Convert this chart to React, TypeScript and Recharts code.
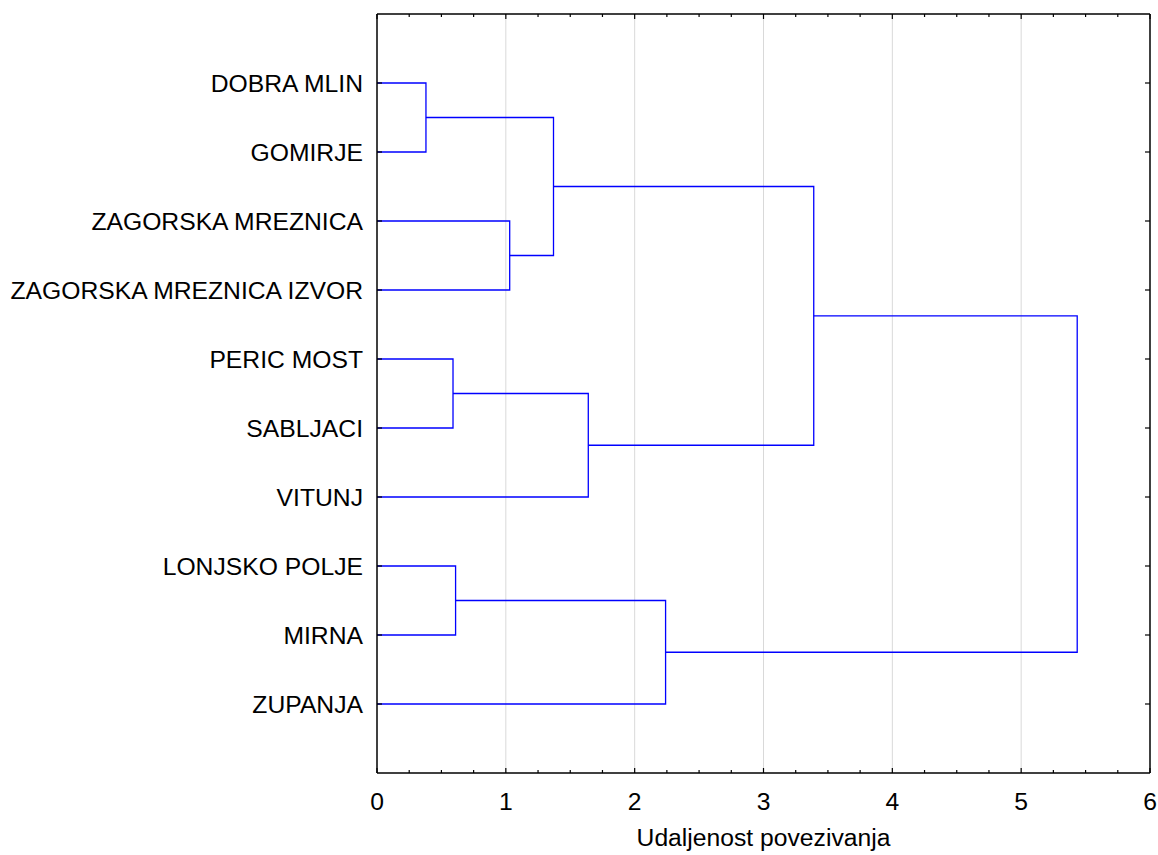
import React from "react";
import { ComposedChart, Line, XAxis, YAxis, CartesianGrid } from "recharts";

// leaves, top to bottom
const leafNames = [
  "DOBRA MLIN",
  "GOMIRJE",
  "ZAGORSKA MREZNICA",
  "ZAGORSKA MREZNICA IZVOR",
  "PERIC MOST",
  "SABLJACI",
  "VITUNJ",
  "LONJSKO POLJE",
  "MIRNA",
  "ZUPANJA",
];

// merge steps: ids 0..9 are leaves, every merge makes a new id (10, 11, ...)
const mergeLeft = [0, 2, 10, 4, 13, 12, 7, 16, 15];
const mergeRight = [1, 3, 11, 5, 6, 14, 8, 9, 17];
const mergeHeight = [0.38, 1.03, 1.37, 0.59, 1.64, 3.39, 0.61, 2.24, 5.435];

const xMajorTicks = [0, 1, 2, 3, 4, 5, 6];
const gridValues = [1, 2, 3, 4, 5];

const FONT = "'Liberation Sans', Arial, sans-serif";
const FONT_SIZE = 24.7;
const BLUE = "#0000ff";

// all ticks incl. minor ones (every 0.25)
const xAllTicks: number[] = [];
for (let i = 0; i < xMajorTicks.length - 1; i++) {
  for (let j = 0; j < 4; j++) xAllTicks.push(xMajorTicks[i] + j * 0.25);
}
xAllTicks.push(xMajorTicks[xMajorTicks.length - 1]);

const leafPos = leafNames.map((_, i) => i + 1);

// build the U-shaped links of the dendrogram
const nodeY: number[] = [...leafPos];
const nodeH: number[] = leafNames.map(() => 0);
const links = mergeLeft.map((l, k) => {
  const r = mergeRight[k];
  const h = mergeHeight[k];
  const pts = [
    { x: nodeH[l], y: nodeY[l] },
    { x: h, y: nodeY[l] },
    { x: h, y: nodeY[r] },
    { x: nodeH[r], y: nodeY[r] },
  ];
  nodeY.push((nodeY[l] + nodeY[r]) / 2);
  nodeH.push(h);
  return pts;
});

const BottomTick = (props: any) => {
  const { x, y, payload } = props;
  const major = Number.isInteger(payload.value);
  return (
    <g>
      <line x1={x} x2={x} y1={y} y2={y - (major ? 5 : 3)} stroke="#000" strokeWidth={1.2} />
      {major && (
        <text x={x} y={y + 37} textAnchor="middle" fontSize={FONT_SIZE} fontFamily={FONT} fill="#000">
          {payload.value}
        </text>
      )}
    </g>
  );
};

const TopTick = (props: any) => {
  const { x, y, payload } = props;
  const major = Number.isInteger(payload.value);
  return <line x1={x} x2={x} y1={y} y2={y + (major ? 5 : 3)} stroke="#000" strokeWidth={1.2} />;
};

const LeftTick = (props: any) => {
  const { x, y, payload } = props;
  const name = leafNames[payload.value - 1];
  return (
    <g>
      <line x1={x} x2={x + 5} y1={y} y2={y} stroke="#000" strokeWidth={1.2} />
      <text x={x - 14} y={y + 8.5} textAnchor="end" fontSize={FONT_SIZE} fontFamily={FONT} fill="#000">
        {name}
      </text>
    </g>
  );
};

const RightTick = (props: any) => {
  const { x, y } = props;
  return <line x1={x} x2={x - 5} y1={y} y2={y} stroke="#000" strokeWidth={1.2} />;
};

const AxisTitle = (props: any) => {
  const { viewBox } = props;
  const cx = viewBox.x + viewBox.width / 2;
  return (
    <text x={cx} y={846} textAnchor="middle" fontSize={FONT_SIZE} fontFamily={FONT} fill="#000">
      Udaljenost povezivanja
    </text>
  );
};

export default function App() {
  return (
    <div style={{ position: "absolute", left: 0, top: 0, background: "#fff" }}>
      <ComposedChart width={1158} height={855} margin={{ top: 0, right: 0, left: 0, bottom: 0 }}>
        <CartesianGrid horizontal={false} verticalValues={gridValues} stroke="#d9d9d9" strokeWidth={1} />
        <XAxis
          type="number"
          dataKey="x"
          domain={[0, 6]}
          ticks={xAllTicks}
          interval={0}
          height={82}
          tickSize={0}
          tickMargin={0}
          tick={<BottomTick />}
          axisLine={{ stroke: "#000", strokeWidth: 1.5 }}
          allowDataOverflow
          label={<AxisTitle />}
        />
        <XAxis
          xAxisId="top"
          orientation="top"
          type="number"
          dataKey="x"
          domain={[0, 6]}
          ticks={xAllTicks}
          interval={0}
          height={14}
          tickSize={0}
          tickMargin={0}
          tick={<TopTick />}
          axisLine={{ stroke: "#000", strokeWidth: 1.5 }}
          allowDataOverflow
        />
        <YAxis
          type="number"
          dataKey="y"
          domain={[0, 11]}
          reversed
          ticks={leafPos}
          interval={0}
          width={377}
          tickSize={0}
          tickMargin={0}
          tick={<LeftTick />}
          axisLine={{ stroke: "#000", strokeWidth: 1.5 }}
          allowDataOverflow
        />
        <YAxis
          yAxisId="right"
          orientation="right"
          type="number"
          dataKey="y"
          domain={[0, 11]}
          reversed
          ticks={leafPos}
          interval={0}
          width={8}
          tickSize={0}
          tickMargin={0}
          tick={<RightTick />}
          axisLine={{ stroke: "#000", strokeWidth: 1.5 }}
          allowDataOverflow
        />
        {links.map((pts, i) => (
          <Line
            key={i}
            data={pts}
            dataKey="y"
            type="linear"
            stroke={BLUE}
            strokeWidth={1.3}
            dot={false}
            activeDot={false}
            isAnimationActive={false}
          />
        ))}
      </ComposedChart>
    </div>
  );
}
